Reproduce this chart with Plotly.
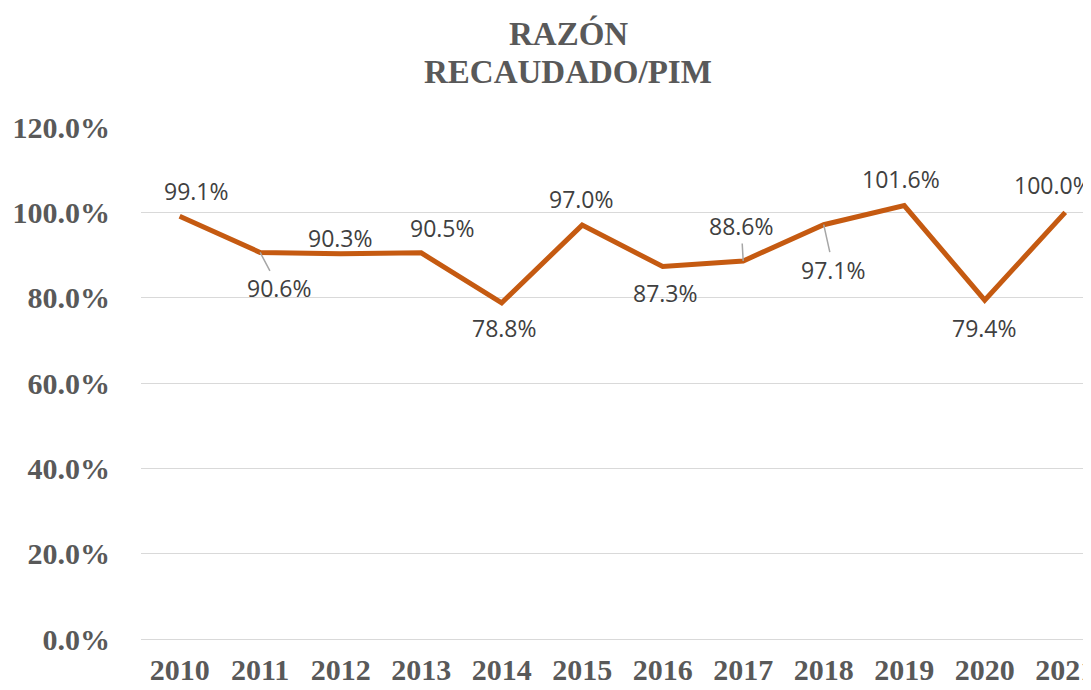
import plotly.graph_objects as go

years = ["2010", "2011", "2012", "2013", "2014", "2015", "2016", "2017", "2018", "2019", "2020", "2021"]
ratio = [0.991, 0.906, 0.903, 0.905, 0.788, 0.970, 0.873, 0.886, 0.971, 1.016, 0.794, 1.000]
y_ticks = [0, 0.2, 0.4, 0.6, 0.8, 1.0, 1.2]
title_lines = ["RAZÓN", "RECAUDADO/PIM"]

# label offsets (px) : (dx, dy, leader line)
offsets = [(17, -25, False), (19, 36, True), (0, -16, False), (21, -25, False),
           (3, 25, False), (-1, -26, False), (3, 26, False), (-2, -35, True),
           (10, 45, True), (-3, -27, False), (0, 28, False), (-12, -27, False)]

GRAY = "#595959"
# page body has an 8px margin; figure is offset by 8px inside the window
OFF = 8
W, H = 1091 - OFF, 690 - OFF
PLOT_L, PLOT_T, PLOT_B = 141, 127, 639  # in window pixels

xi = list(range(len(years)))
fig = go.Figure()
fig.add_trace(go.Scatter(
    x=xi, y=ratio, mode="lines",
    line=dict(color="#C55A11", width=5),
    hoverinfo="skip", showlegend=False,
))

annotations = []
for i, v, (dx, dy, lead) in zip(xi, ratio, offsets):
    txt = f"{v*100:.1f}%"
    base = dict(x=i, y=v, xref="x", yref="y", text=txt,
                font=dict(family="Open Sans", size=23, color="#404040"))
    if lead:
        base.update(showarrow=True, ax=dx, ay=dy, arrowhead=0, arrowwidth=1.5,
                    arrowcolor="#A6A6A6", standoff=0)
    else:
        base.update(showarrow=False, xshift=dx, yshift=-dy)
    annotations.append(base)

plot_h = PLOT_B - PLOT_T
plot_w = 1091 - PLOT_L
for line, ys in zip(title_lines, [33, 72]):
    annotations.append(dict(
        text=f"<b>{line}</b>", showarrow=False,
        xref="paper", yref="paper",
        x=(568 - PLOT_L) / plot_w, y=(PLOT_B - ys) / plot_h,
        xanchor="center", yanchor="middle",
        font=dict(family="Liberation Serif", size=33, color=GRAY),
    ))

fig.update_layout(
    width=W, height=H,
    paper_bgcolor="white", plot_bgcolor="white",
    margin=dict(l=PLOT_L - OFF, r=0, t=PLOT_T - OFF, b=690 - PLOT_B, autoexpand=False),
    annotations=annotations,
    xaxis=dict(
        range=[-0.48, 11.32], tickvals=xi, ticktext=[f"<b>{y}</b>" for y in years],
        showgrid=False, showline=False, zeroline=False,
        tickfont=dict(family="Liberation Serif", size=30, color=GRAY),
        ticks="", ticklabelstandoff=10, ticklabeloverflow="allow",
    ),
    yaxis=dict(
        range=[0, 1.2], tickvals=y_ticks,
        ticktext=[f"<b>{t*100:.1f}%</b>" for t in y_ticks],
        showgrid=True, gridcolor="#D9D9D9", gridwidth=1.3,
        zeroline=True, zerolinecolor="#D9D9D9", zerolinewidth=1.3,
        showline=False, ticks="", ticklabelstandoff=30,
        tickfont=dict(family="Liberation Serif", size=30, color=GRAY),
    ),
)

fig.write_html("out.html")
